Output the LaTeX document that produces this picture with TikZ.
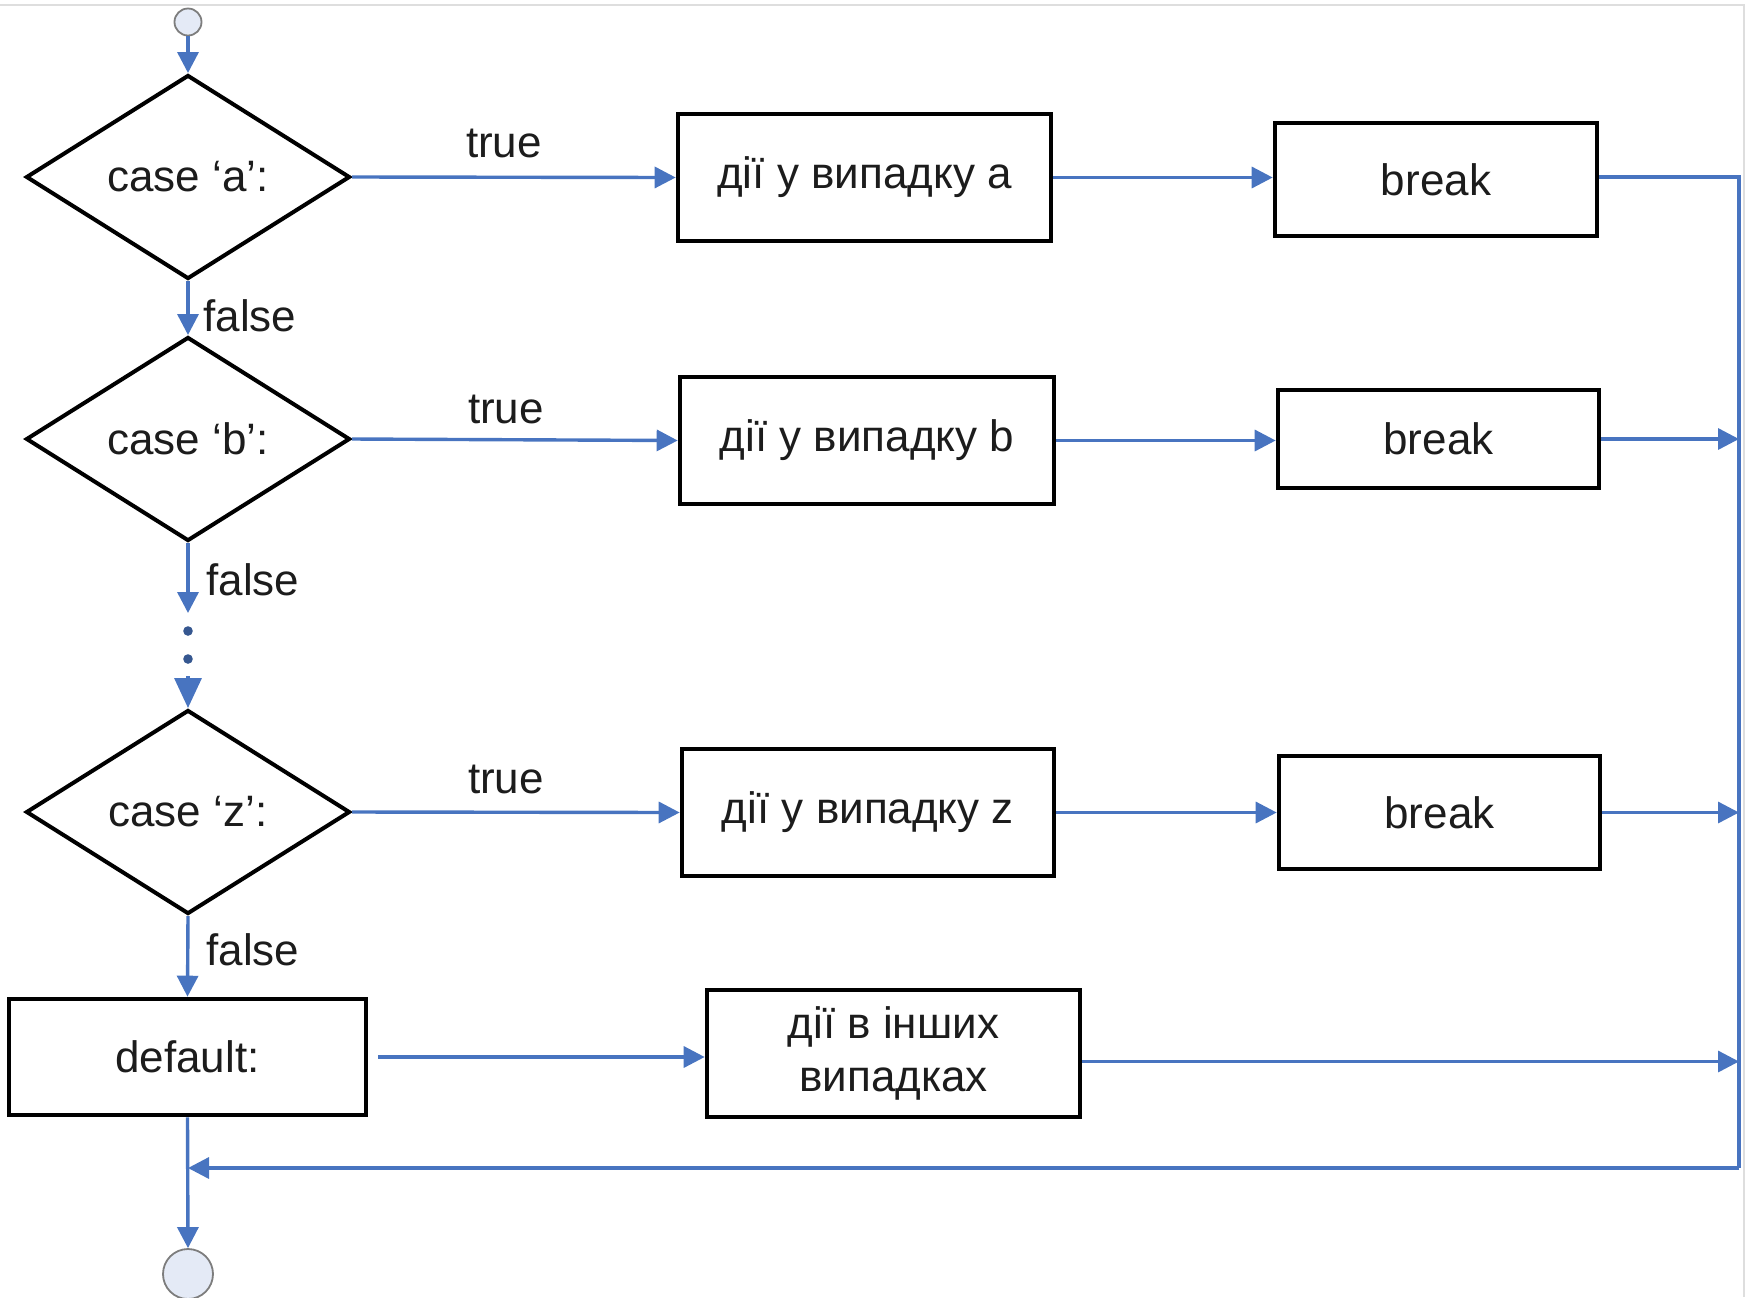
\documentclass[tikz,border=0pt]{standalone}
\usepackage{fontspec}
\setmainfont{Liberation Sans}
\usetikzlibrary{shapes.geometric,arrows.meta,calc}
\definecolor{flow}{RGB}{72,116,192}
\definecolor{ink}{RGB}{28,28,28}
\definecolor{termfill}{RGB}{228,234,246}
\definecolor{termline}{RGB}{125,125,125}
\definecolor{framegray}{RGB}{222,222,222}

\begin{document}
\begin{tikzpicture}[x=0.5pt,y=-0.5pt,
  every node/.style={font=\fontsize{22}{26.5}\selectfont, text=ink},
  decision/.style={draw=black, line width=2pt, shape=diamond, aspect=1.59,
    minimum width=162pt, minimum height=102pt, inner sep=0pt},
  action/.style={draw=black, line width=2.3pt, inner sep=0pt, align=center},
  terminal/.style={draw=termline, fill=termfill, line width=0.9pt, circle, inner sep=0pt},
  flowline/.style={draw=flow, line width=1.7pt},
  flowarrow/.style={flowline, -{Triangle[length=10.5pt,width=10.5pt]}},
  bigarrow/.style={flowline, -{Triangle[length=15pt,width=13.5pt]}},
  label/.style={inner sep=0pt}
]
\useasboundingbox (0,0) rectangle (1752,1297);

% page frame
\draw[framegray, line width=1pt] (0,5) -- (1744,5) -- (1744,1297);

% terminals
\node[terminal, minimum size=13.5pt] (start) at (188,22) {};
\node[terminal, minimum size=25pt] (end) at (188,1274) {};

% decisions
\node[decision] (ca) at (188,177) {case ‘a’:};
\node[decision] (cb) at (188,439) {case ‘b’:};
\node[decision] (cz) at (188,812) {case ‘z’:};
\node[action, minimum width=178.5pt, minimum height=58pt] (default) at (187.5,1057) {default:};

% actions
\node[action, minimum width=186.5pt, minimum height=63.5pt] (aa) at (864.5,177.5) {дії у випадку a};
\node[action, minimum width=187pt, minimum height=63.5pt] (ab) at (867,440.5) {дії у випадку b};
\node[action, minimum width=186pt, minimum height=63.5pt] (az) at (868,812.5) {дії у випадку z};
\node[action, minimum width=186.5pt, minimum height=63.5pt] (other) at (893.5,1053.5) {дії в інших\\випадках};

% breaks
\node[action, minimum width=161pt, minimum height=56.5pt] (ba) at (1436,179.5) {break};
\node[action, minimum width=160.5pt, minimum height=49pt] (bb) at (1438.5,439) {break};
\node[action, minimum width=160.5pt, minimum height=56.5pt] (bz) at (1439.5,812.5) {break};

% labels
\node[label] (ta) at (504,143) {true};
\node[label] (tb) at (506,409) {true};
\node[label] (tz) at (506,779) {true};
\node[label] (fa) at (250,316) {false};
\node[label] (fb) at (253,580) {false};
\node[label] (fz) at (253,950) {false};

% helper points
\coordinate (gap) at (188,613);
\coordinate (resume) at (188,676);
\coordinate (railtop) at (1739,177);
\coordinate (railbot) at (1739,1168);
\coordinate (join) at (188,1168);

% elided cases
\fill[flow!75!black] (188,631) circle (2.4pt);
\fill[flow!75!black] (188,659) circle (2.4pt);

% vertical chain
\draw[flowarrow] (start) -- (ca.north);
\draw[flowarrow] (ca.south) -- (cb.north);
\draw[flowarrow] (cb.south) -- (gap);
\draw[bigarrow] (resume) -- (cz.north);
\draw[flowarrow] (cz.south) -- (default.north);
\draw[flowarrow] (default.south) -- (end.north);

% true branches
\draw[flowarrow] (ca.east) -- (aa.west);
\draw[flowarrow] (cb.east) -- (ab.west);
\draw[flowarrow] (cz.east) -- (az.west);
\draw[flowarrow] ([xshift=5pt]default.east) -- (other.west |- default.east);

% to break
\draw[flowarrow] (aa.east) -- (ba.west |- aa.east);
\draw[flowarrow] (ab.east) -- (bb.west |- ab.east);
\draw[flowarrow] (az.east) -- (bz.west |- az.east);

% exits to the rail
\draw[flowline] (ba.east |- railtop) -- (railtop) -- (railbot);
\draw[flowarrow] (bb.east) -- (bb.east -| railtop);
\draw[flowarrow] (bz.east) -- (bz.east -| railtop);
\draw[flowarrow] ([yshift=-4pt]other.east) -- ([yshift=-4pt]other.east -| railtop);
\draw[flowarrow] (railbot) -- (join);
\end{tikzpicture}
\end{document}
